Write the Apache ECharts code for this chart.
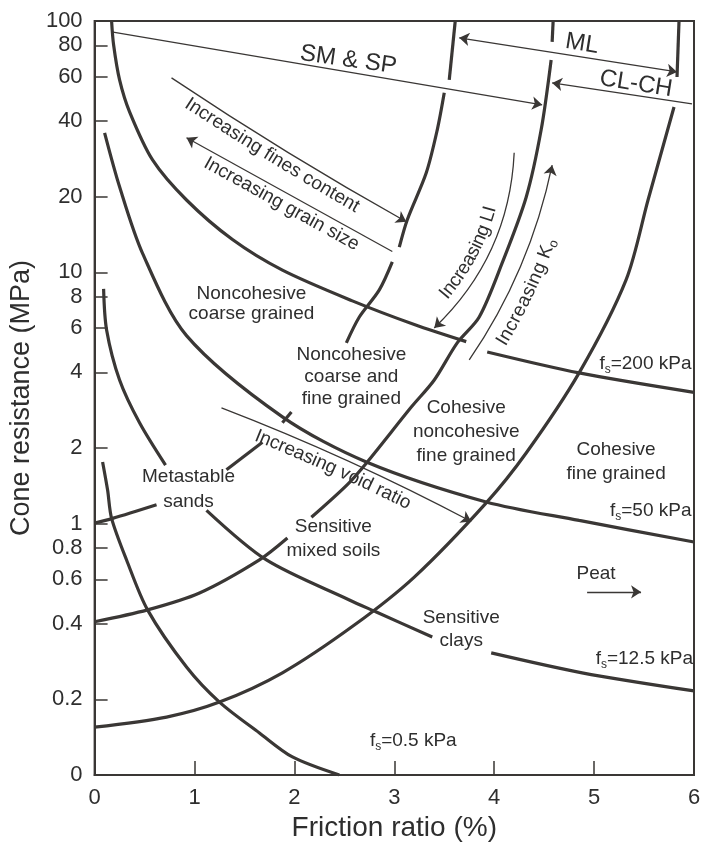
<!DOCTYPE html>
<html>
<head>
<meta charset="utf-8">
<title>Soil classification chart</title>
<script src="https://cdn.jsdelivr.net/npm/echarts@6/dist/echarts.min.js"></script>
<style>
  html, body { margin: 0; padding: 0; background: #fff; }
  #chart { width: 707px; height: 850px; }
</style>
</head>
<body>
<div id="chart"></div>
<script>
// axis ticks
var frictionTicks = [0, 1, 2, 3, 4, 5, 6];
var coneTicks = [0.1, 0.2, 0.4, 0.6, 0.8, 1, 2, 4, 6, 8, 10, 20, 40, 60, 80, 100];

// curves: [friction ratio %, cone resistance MPa]
// falling curves (constant sleeve friction)
var fs200a = [[0.17, 100], [0.19, 80.4], [0.25, 58.3], [0.35, 43.5], [0.58, 28.0], [0.92, 19.4], [1.38, 13.5], [1.88, 10.2], [2.58, 7.7], [3.2, 6.2], [3.72, 5.3]];
var fs200b = [[3.93, 4.82], [4.85, 3.98], [6.0, 3.33]];
var fs50 = [[0.10, 35.9], [0.25, 21.9], [0.48, 11.9], [0.92, 5.6], [1.88, 2.66], [2.72, 1.76], [3.92, 1.22], [4.85, 1.03], [6.0, 0.845]];
var fs12a = [[0.09, 8.59], [0.12, 5.90], [0.25, 3.73], [0.45, 2.52], [0.71, 1.71]];
var fs12b = [[1.12, 1.13], [1.72, 0.717], [2.55, 0.497], [2.82, 0.445], [3.38, 0.354]];
var fs12c = [[3.97, 0.306], [4.88, 0.255], [6.0, 0.216]];
var fs05 = [[0.08, 1.76], [0.13, 1.36], [0.17, 1.05], [0.32, 0.717], [0.53, 0.454], [0.92, 0.269], [1.25, 0.195], [1.65, 0.147], [1.98, 0.118], [2.45, 0.1]];

// rising zone boundaries
var riseA1 = [[0, 0.155], [0.72, 0.170], [1.25, 0.195], [1.88, 0.255], [2.60, 0.395], [3.20, 0.613], [3.92, 1.21], [4.32, 1.91], [4.85, 3.98], [5.32, 9.33], [5.54, 19.4], [5.80, 45.5]];
var riseA2 = [[5.83, 59.9], [5.85, 100]];
var riseB1 = [[0, 0.407], [0.53, 0.454], [1.05, 0.530], [1.65, 0.718], [1.93, 0.877]];
var riseB2 = [[2.17, 1.06], [2.53, 1.43], [2.73, 1.76], [3.17, 2.91], [3.40, 3.73], [3.63, 5.24], [3.85, 6.64], [4.08, 10.9], [4.32, 19.9], [4.47, 36.9], [4.57, 70.0]];
var riseB3 = [[4.58, 82.6], [4.59, 100]];
var riseC1 = [[0, 1.006], [0.18, 1.05], [0.62, 1.19]];
var riseC2 = [[1.32, 1.64], [1.68, 2.11]];
var riseC3 = [[1.88, 2.52], [1.97, 2.78]];
var riseC4 = [[2.52, 5.24], [2.65, 6.64], [2.85, 8.51], [2.98, 11.0]];
var riseC5 = [[3.05, 12.6], [3.13, 16.2], [3.32, 24.9], [3.43, 36.9], [3.50, 51.8]];
var riseC6 = [[3.55, 58.3], [3.61, 100]];

// arrows: [start, end], head at the end
var finesArrow = [[0.77, 59.4], [3.12, 15.9]];
var grainArrow = [[2.98, 12.1], [0.92, 34.3]];
var voidArrow = [[1.27, 2.89], [3.77, 1.02]];
var liArrow = [[4.20, 29.9], [3.40, 6.01]];
var koArrow = [[3.75, 4.48], [4.58, 26.7]];
var smspArrow = [[0.17, 90.6], [4.48, 46.4]];
var clchArrow = [[5.98, 46.8], [4.58, 56.7]];
var peatArrow = [[4.93, 0.535], [5.47, 0.535]];
var mlArrow = [[3.65, 85.7], [5.83, 62.7]];

var FONT = '"Liberation Sans", Arial, Helvetica, sans-serif';
var INK = '#3a3735';
var TEXT = '#2e2e2e';

var segments = [fs200a, fs200b, fs50, fs12a, fs12b, fs12c, fs05,
  riseA1, riseA2, riseB1, riseB2, riseB3,
  riseC1, riseC2, riseC3, riseC4, riseC5, riseC6];

// bend of each curved arrow (lines series curveness)
var bends = { fines: -0.02, grain: 0, void: 0.03, li: 0.2, ko: -0.1 };

var series = segments.map(function (seg) {
  return {
    type: 'line',
    data: seg,
    smooth: 0.3,
    symbol: 'none',
    silent: true,
    lineStyle: { color: INK, width: 3.2 },
    z: 3
  };
});

series.push({
  type: 'lines',
  coordinateSystem: 'cartesian2d',
  symbol: ['none', 'arrow'],
  symbolSize: 10,
  silent: true,
  lineStyle: { color: INK, width: 1.3, opacity: 1 },
  z: 4,
  data: [
    { coords: finesArrow, lineStyle: { curveness: bends.fines } },
    { coords: grainArrow, lineStyle: { curveness: bends.grain } },
    { coords: voidArrow, lineStyle: { curveness: bends.void } },
    { coords: liArrow, lineStyle: { curveness: bends.li } },
    { coords: koArrow, lineStyle: { curveness: bends.ko } },
    { coords: smspArrow },
    { coords: clchArrow },
    { coords: peatArrow }
  ]
});

series.push({
  type: 'lines',
  coordinateSystem: 'cartesian2d',
  symbol: ['arrow', 'arrow'],
  symbolSize: 10,
  silent: true,
  lineStyle: { color: INK, width: 1.3, opacity: 1 },
  z: 4,
  data: [{ coords: mlArrow }]
});

var myChart = echarts.init(document.getElementById('chart'));

var option = {
  animation: false,
  backgroundColor: '#fff',
  grid: {
    left: 93, right: 13, top: 21, bottom: 75,
    show: true, borderColor: INK, borderWidth: 2
  },
  xAxis: {
    type: 'value',
    min: 0, max: 6, interval: 1,
    name: 'Friction ratio (%)',
    nameLocation: 'middle',
    nameGap: 36,
    nameTextStyle: { fontSize: 28, fontFamily: FONT, color: TEXT },
    axisLine: { onZero: false, lineStyle: { color: INK, width: 2 } },
    axisTick: { inside: true, length: 14, lineStyle: { color: INK, width: 1.5 }, customValues: frictionTicks },
    axisLabel: { fontSize: 22, fontFamily: FONT, color: TEXT, margin: 12, customValues: frictionTicks },
    splitLine: { show: false }
  },
  yAxis: {
    type: 'log',
    logBase: 10,
    min: 0.1, max: 100,
    name: 'Cone resistance (MPa)',
    nameLocation: 'middle',
    nameGap: 52,
    nameTextStyle: { fontSize: 27, fontFamily: FONT, color: TEXT },
    axisLine: { lineStyle: { color: INK, width: 2 } },
    axisTick: { inside: true, length: 13, lineStyle: { color: INK, width: 1.5 }, customValues: coneTicks },
    axisLabel: {
      fontSize: 22, fontFamily: FONT, color: TEXT, margin: 12,
      customValues: coneTicks,
      formatter: function (v) {
        v = +Number(v).toPrecision(3);
        return v < 0.15 ? '0' : String(v);
      }
    },
    minorTick: { show: false },
    splitLine: { show: false }
  },
  series: series
};
myChart.setOption(option);

// ---- annotations ----
function px(p) {
  return myChart.convertToPixel({ xAxisIndex: 0, yAxisIndex: 0 }, p);
}

var measureCtx = document.createElement('canvas').getContext('2d');

function fontOf(size) {
  return size + 'px ' + FONT;
}

// sample the same quadratic curve the lines series draws
function arrowPath(arrow, bend) {
  var a = px(arrow[0]), b = px(arrow[1]);
  var cp = [(a[0] + b[0]) / 2 - (a[1] - b[1]) * bend, (a[1] + b[1]) / 2 - (b[0] - a[0]) * bend];
  var pts = [];
  for (var i = 0; i <= 200; i++) {
    var t = i / 200, u = 1 - t;
    pts.push([u * u * a[0] + 2 * u * t * cp[0] + t * t * b[0], u * u * a[1] + 2 * u * t * cp[1] + t * t * b[1]]);
  }
  return pts;
}

// place characters along a path; off > 0 puts text above the path
function textAlong(pts, parts, s0, off, out) {
  var cum = [0];
  for (var i = 1; i < pts.length; i++) {
    cum.push(cum[i - 1] + Math.hypot(pts[i][0] - pts[i - 1][0], pts[i][1] - pts[i - 1][1]));
  }
  function at(s) {
    var k = 1;
    while (k < cum.length - 1 && cum[k] < s) k++;
    var f = (s - cum[k - 1]) / (cum[k] - cum[k - 1]);
    var dx = pts[k][0] - pts[k - 1][0], dy = pts[k][1] - pts[k - 1][1];
    var len = Math.hypot(dx, dy);
    return { x: pts[k - 1][0] + dx * f, y: pts[k - 1][1] + dy * f, ux: dx / len, uy: dy / len };
  }
  var s = s0;
  parts.forEach(function (part) {
    var size = part.size || 19;
    measureCtx.font = fontOf(size);
    for (var j = 0; j < part.text.length; j++) {
      var ch = part.text[j];
      var w = measureCtx.measureText(ch).width;
      var p = at(s + w / 2);
      var d = off + (part.shift || 0);
      out.push({
        type: 'text',
        x: p.x + p.uy * d,
        y: p.y - p.ux * d,
        rotation: -Math.atan2(p.uy, p.ux),
        silent: true,
        style: { text: ch, font: fontOf(size), fill: TEXT, align: 'center', verticalAlign: 'middle', textAlign: 'center', textVerticalAlign: 'middle' }
      });
      s += w;
    }
  });
}

function label(pos, text, opts) {
  opts = opts || {};
  var p = px(pos);
  var size = opts.size || 19;
  return {
    type: 'text',
    x: p[0], y: p[1],
    rotation: (opts.rotate || 0) * Math.PI / 180,
    silent: true,
    style: {
      text: text,
      font: fontOf(size),
      fill: TEXT,
      lineHeight: opts.lineHeight || 22,
      align: opts.align || 'center', textAlign: opts.align || 'center',
      verticalAlign: 'middle', textVerticalAlign: 'middle',
      rich: opts.rich
    }
  };
}

var subRich = {
  a: { fontSize: 19, fontFamily: FONT, fill: TEXT, lineHeight: 24 },
  b: { fontSize: 12, fontFamily: FONT, fill: TEXT, lineHeight: 10, verticalAlign: 'bottom' }
};

var graphics = [
  label([1.57, 7.48], 'Noncohesive\ncoarse grained', { lineHeight: 20 }),
  label([2.57, 3.84], 'Noncohesive\ncoarse and\nfine grained', { lineHeight: 22 }),
  label([3.72, 2.32], 'Cohesive\nnoncohesive\nfine grained', { lineHeight: 24 }),
  label([5.22, 1.76], 'Cohesive\nfine grained', { lineHeight: 24 }),
  label([0.94, 1.37], 'Metastable\nsands', { lineHeight: 25 }),
  label([2.39, 0.869], 'Sensitive\nmixed soils', { lineHeight: 24 }),
  label([3.67, 0.381], 'Sensitive\nclays', { lineHeight: 23 }),
  label([5.02, 0.631], 'Peat'),
  label([2.54, 70.0], 'SM & SP', { size: 24, rotate: -8 }),
  label([4.88, 81.1], 'ML', { size: 24, rotate: -9 }),
  label([5.42, 56.2], 'CL-CH', { size: 24, rotate: -9 }),
  label([5.975, 4.32], '{a|f}{b|s}{a|=200 kPa}', { align: 'right', rich: subRich }),
  label([5.975, 1.13], '{a|f}{b|s}{a|=50 kPa}', { align: 'right', rich: subRich }),
  label([5.99, 0.29], '{a|f}{b|s}{a|=12.5 kPa}', { align: 'right', rich: subRich }),
  label([3.19, 0.137], '{a|f}{b|s}{a|=0.5 kPa}', { rich: subRich })
];

textAlong(arrowPath(finesArrow, bends.fines), [{ text: 'Increasing fines content' }], 26, -12, graphics);
textAlong(arrowPath(grainArrow, bends.grain).reverse(), [{ text: 'Increasing grain size' }], 28, -12, graphics);
textAlong(arrowPath(voidArrow, bends.void), [{ text: 'Increasing void ratio' }], 42, -13, graphics);
textAlong(arrowPath(liArrow, bends.li).reverse(), [{ text: 'Increasing LI' }], 30, 15, graphics);
textAlong(arrowPath(koArrow, bends.ko), [{ text: 'Increasing K' }, { text: 'o', size: 13, shift: -5 }], 30, -18, graphics);

myChart.setOption({ graphic: { elements: graphics } });
</script>
</body>
</html>
